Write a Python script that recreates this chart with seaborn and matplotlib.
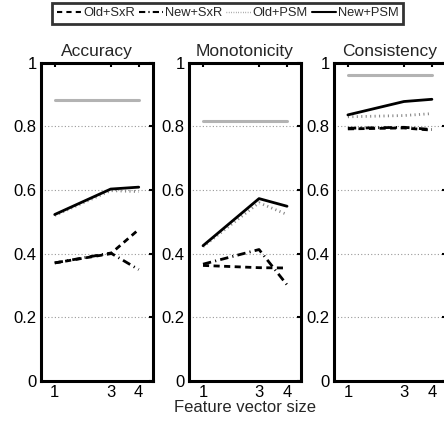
import matplotlib
matplotlib.use("Agg")
import matplotlib.pyplot as plt
import seaborn as sns
import pandas as pd
from matplotlib.lines import Line2D

sns.set_style("white")
plt.rcParams['font.family'] = ['Liberation Sans', 'DejaVu Sans']

sizes = [1, 3, 4]
metrics = ["Accuracy", "Monotonicity", "Consistency"]
series = ["Old+SxR", "New+SxR", "Old+PSM", "New+PSM"]

old_sxr = {"Accuracy": [0.371, 0.400, 0.476],
           "Monotonicity": [0.363, 0.356, 0.355],
           "Consistency": [0.792, 0.795, 0.788]}
new_sxr = {"Accuracy": [0.371, 0.402, 0.350],
           "Monotonicity": [0.367, 0.413, 0.302],
           "Consistency": [0.794, 0.797, 0.790]}
old_psm = {"Accuracy": [0.520, 0.598, 0.595],
           "Monotonicity": [0.422, 0.560, 0.523],
           "Consistency": [0.830, 0.834, 0.840]}
new_psm = {"Accuracy": [0.523, 0.603, 0.609],
           "Monotonicity": [0.425, 0.573, 0.549],
           "Consistency": [0.836, 0.878, 0.885]}
reference = {"Accuracy": [0.882, 0.882, 0.882],
             "Monotonicity": [0.817, 0.817, 0.817],
             "Consistency": [0.960, 0.960, 0.960]}

ytick_vals = [0, 0.2, 0.4, 0.6, 0.8, 1]
ytick_labels = ["0", "0.2", "0.4", "0.6", "0.8", "1"]

styles = {
    "Reference": dict(color="#b3b3b3", linestyle="-", linewidth=2.2),
    "Old+PSM": dict(color="#888888", linestyle=(0, (0.4, 1.2)), linewidth=2.0),
    "Old+SxR": dict(color="black", linestyle=(0, (2.2, 1.6)), linewidth=2.0),
    "New+SxR": dict(color="black", linestyle=(0, (3, 1.5, 0.4, 1.5)), linewidth=2.0),
    "New+PSM": dict(color="black", linestyle="-", linewidth=2.0),
}
legend_styles = {
    "Old+SxR": dict(color="black", linestyle=(0, (2.5, 2)), linewidth=1.5),
    "New+SxR": dict(color="black", linestyle=(0, (3, 1.5, 0.6, 1.5)), linewidth=1.5),
    "Old+PSM": dict(color="#888888", linestyle=(0, (0.5, 1.2)), linewidth=1.0),
    "New+PSM": dict(color="black", linestyle="-", linewidth=1.5),
}
data = {"Reference": reference, "Old+PSM": old_psm, "Old+SxR": old_sxr,
        "New+SxR": new_sxr, "New+PSM": new_psm}

fig = plt.figure(figsize=(4.44, 4.23), dpi=100)
lefts = [0.0917, 0.4257, 0.752]
W, B, H = 0.2523, 0.0993, 0.7525

for left, m in zip(lefts, metrics):
    ax = fig.add_axes([left, B, W, H])
    for ytk in [0.2, 0.4, 0.6, 0.8]:
        ax.axhline(ytk, color="#999999", linestyle=(0, (1, 2)), linewidth=0.8, zorder=0)
    for name in ["Reference", "Old+PSM", "Old+SxR", "New+SxR", "New+PSM"]:
        df = pd.DataFrame({"size": sizes, "value": data[name][m]})
        sns.lineplot(data=df, x="size", y="value", ax=ax, legend=False,
                     **styles[name])
    ax.set_xlim(0.5, 4.5)
    ax.set_ylim(0, 1)
    ax.set_xticks(sizes)
    ax.set_xticklabels([str(s) for s in sizes], fontsize=12)
    ax.set_yticks(ytick_vals)
    ax.set_yticklabels(ytick_labels, fontsize=12)
    ax.tick_params(direction="in", length=3, width=1.5, top=True, right=True,
                   pad=3, colors="black")
    for sp in ax.spines.values():
        sp.set_visible(True)
        sp.set_color("black")
        sp.set_linewidth(2.2)
    ax.set_title(m, fontsize=12.5, pad=5)
    ax.set_xlabel("")
    ax.set_ylabel("")
    if m == "Monotonicity":
        ax.set_xlabel("Feature vector size", fontsize=12, labelpad=0)

handles = [Line2D([0], [0], **legend_styles[n]) for n in series]
leg = fig.legend(handles, series, loc="center", bbox_to_anchor=(0.513, 0.969),
                 ncol=4, fontsize=9.3, frameon=True, fancybox=False,
                 handlelength=1.9, handletextpad=0.15, columnspacing=0.3,
                 borderpad=0.35, borderaxespad=0)
leg.get_frame().set_edgecolor("black")
leg.get_frame().set_linewidth(2.0)

fig.savefig("out.png", dpi=100)
